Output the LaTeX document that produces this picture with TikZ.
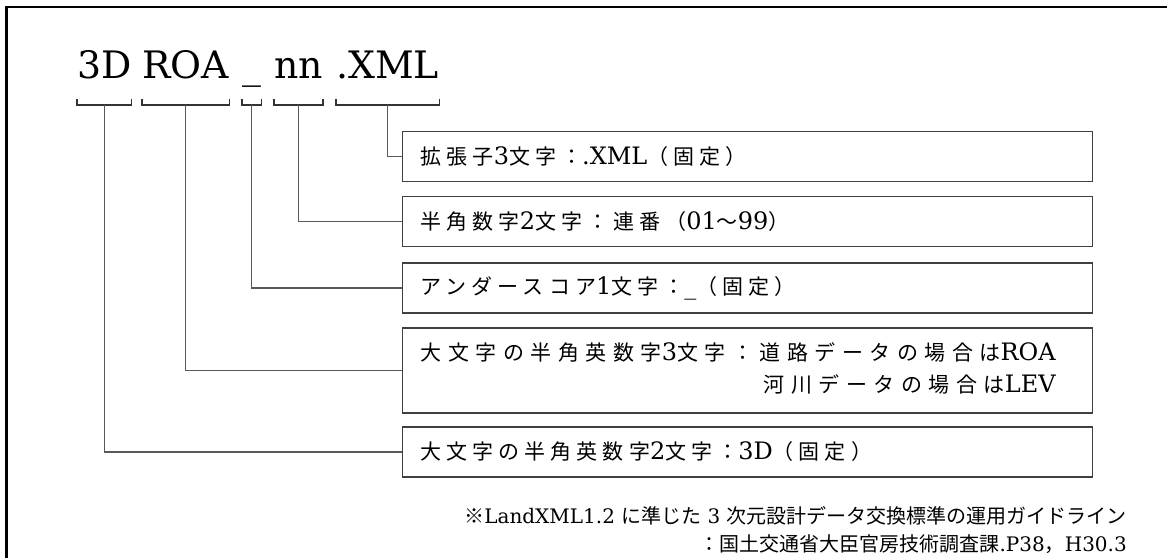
\documentclass[tikz,border=0pt]{standalone}
\usepackage{fontspec}
\setmainfont{DejaVu Serif}
\newfontfamily\jpbox[LetterSpace=24]{Noto Sans CJK JP}
\newfontfamily\jpwide[LetterSpace=31]{Noto Sans CJK JP}
\newfontfamily\jpnote{Noto Sans CJK JP}
\newcommand\jb[1]{{\jpbox\fontsize{21pt}{32pt}\selectfont #1}}
\newcommand\jw[1]{{\jpwide\fontsize{21pt}{32pt}\selectfont #1}}
\newcommand\jn[1]{{\jpnote #1}}
\tikzset{
    part/.style={anchor=base west, inner sep=0pt, font=\fontsize{37.8pt}{38pt}\selectfont},
    field/.style={draw=black!75, line width=1.4pt, anchor=west, align=left, text width=654pt,
        inner xsep=18pt, minimum height=50pt, font=\fontsize{24pt}{32pt}\selectfont},
    brace/.style={draw=black!80, line width=1.2pt},
    lead/.style={draw=black!65, line width=1.2pt},
    frame/.style={draw=black, line width=2.5pt}
}

\begin{document}
\begin{tikzpicture}[x=1pt,y=-1pt]
    \useasboundingbox (0,0) rectangle (1167,558);
    \draw[frame] (6.5,558) -- (6.5,7) -- (1167,7);
    \node[part] (t3d) at (77,78) {3D};
    \node[part] (troa) at (142,78) {ROA};
    \node[part] (tus) at (242,78) {\_};
    \node[part] (tnn) at (274,78) {nn};
    \node[part] (txml) at (336,78) {.XML};
    \node[field] (bxml) at (402,156.5) {\jb{拡張子}3\jb{文字：}.XML\jb{（固定）}};
    \node[field] (bnn) at (402,221.5) {\jb{半角数字}2\jb{文字：連番（}01\jb{～}99\jb{）}};
    \node[field] (bus) at (402,288) {\jb{アンダースコア}1\jb{文字：}\_\jb{（固定）}};
    \node[field, minimum height=85pt] (broa) at (402,370.5)
        {\begin{tabular}{@{}r@{}}
         \jw{大文字の半角英数字}3\jw{文字：道路データの場合は}ROA\\
         \jw{河川データの場合は}LEV
         \end{tabular}};
    \node[field] (b3d) at (402,452) {\jb{大文字の半角英数字}2\jb{文字：}3D\jb{（固定）}};
    \foreach \p/\b in {t3d/b3d, troa/broa, tus/bus, tnn/bnn, txml/bxml} {
        \draw[brace] (\p.west |- 0,99) -- (\p.west |- 0,105) -- (\p.east |- 0,105) -- (\p.east |- 0,99);
        \draw[lead] (\p.center |- 0,105) |- (\b.west);
    }
    \node[anchor=east, align=right, inner sep=0pt, font=\fontsize{20pt}{28pt}\selectfont] (note) at (1127,530)
        {\jn{※}LandXML1.2 \jn{に準じた} 3 \jn{次元設計データ交換標準の運用ガイドライン}\\
         \jn{：国土交通省大臣官房技術調査課}.P38\jn{，}H30.3};
\end{tikzpicture}
\end{document}
